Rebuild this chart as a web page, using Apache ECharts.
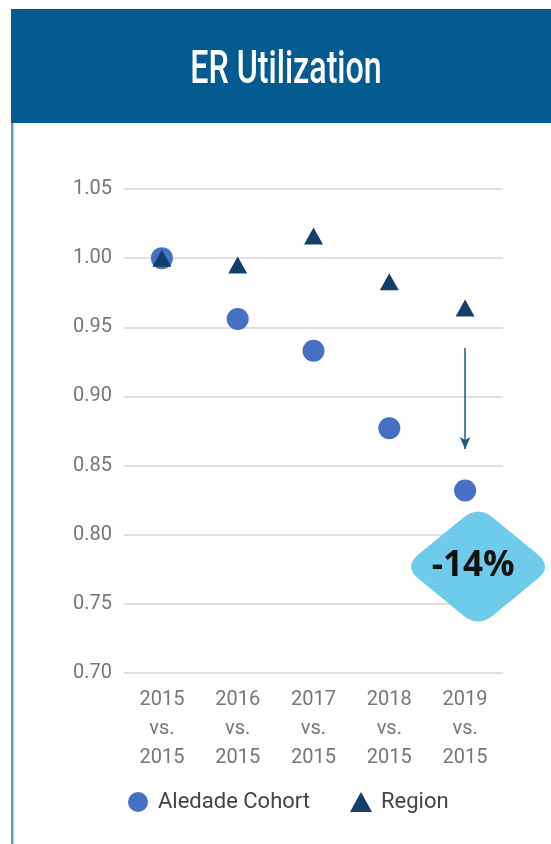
<!DOCTYPE html>
<html>
<head>
<meta charset="utf-8">
<script src="https://cdn.jsdelivr.net/npm/echarts@6/dist/echarts.min.js"></script>
<style>
  html, body { margin: 0; padding: 0; background: #fff; }
  #chart { width: 551px; height: 844px; }
</style>
</head>
<body>
<div id="chart"></div>
<script>
// data
const categories = ['2015\nvs.\n2015', '2016\nvs.\n2015', '2017\nvs.\n2015', '2018\nvs.\n2015', '2019\nvs.\n2015']
const cohortValues = [1.000, 0.956, 0.933, 0.877, 0.832]
const regionValues = [1.000, 0.995, 1.016, 0.983, 0.964]
const yTicks = [0.70, 0.75, 0.80, 0.85, 0.90, 0.95, 1.00, 1.05]
const titleText = 'ER Utilization'
const changeLabel = '-14%'
const arrowFrom = 0.935
const arrowTo = 0.862
const badgeValue = 0.777

const chart = echarts.init(document.getElementById('chart'))

// rounded diamond used for the badge
const diamondPath = 'path://M40,10 Q50,0 60,10 L90,40 Q100,50 90,60 L60,90 Q50,100 40,90 L10,60 Q0,50 10,40 Z'

const option = {
  animation: false,
  graphic: [
    // header band
    { type: 'rect', shape: { x: 11, y: 9, width: 540, height: 114 }, style: { fill: '#035b8f' }, z: -1 },
    // left border
    { type: 'rect', shape: { x: 11, y: 123, width: 2.5, height: 721 }, style: { fill: '#5b9bc8' }, z: -1 },
    // title, squeezed to look like a condensed face
    {
      type: 'text',
      x: 286,
      y: 71,
      scaleX: 0.7,
      style: {
        text: titleText,
        fill: '#fff',
        font: '500 46px Roboto',
        textAlign: 'center',
        textVerticalAlign: 'middle'
      }
    }
  ],
  grid: { left: 124, right: 48, top: 189, bottom: 171 },
  legend: {
    bottom: 26,
    left: 123,
    itemGap: 40,
    itemWidth: 22,
    itemHeight: 20,
    textStyle: { fontFamily: 'Roboto', fontSize: 22, color: '#444', padding: [0, 0, 0, 4] },
    data: [
      { name: 'Aledade Cohort', icon: 'circle' },
      { name: 'Region', icon: 'triangle', itemStyle: { color: '#123f6b' } }
    ]
  },
  xAxis: {
    type: 'category',
    data: categories,
    axisLine: { show: false },
    axisTick: { show: false },
    axisLabel: {
      fontFamily: 'Roboto',
      fontSize: 20,
      lineHeight: 29,
      color: '#777',
      margin: 12
    }
  },
  yAxis: {
    type: 'value',
    min: yTicks[0],
    max: yTicks[yTicks.length - 1],
    interval: 0.05,
    axisLabel: {
      fontFamily: 'Roboto',
      fontSize: 20,
      color: '#777',
      margin: 12,
      formatter: (v) => v.toFixed(2)
    },
    splitLine: { lineStyle: { color: '#d6d6d6', width: 1.5 } }
  },
  series: [
    {
      name: 'Aledade Cohort',
      type: 'scatter',
      symbol: 'circle',
      symbolSize: 22,
      itemStyle: { color: '#4570c4', opacity: 1 },
      data: cohortValues,
      z: 2,
      markLine: {
        silent: true,
        symbol: ['none', 'arrow'],
        symbolSize: [8, 12],
        label: { show: false },
        lineStyle: { color: '#1b5a87', width: 1.5, type: 'solid' },
        data: [[
          { coord: [4, arrowFrom] },
          { coord: [4, arrowTo] }
        ]]
      },
      markPoint: {
        silent: true,
        symbol: diamondPath,
        symbolSize: [134, 110],
        symbolOffset: [13, 0],
        itemStyle: { color: '#6fcbea' },
        label: {
          show: true,
          position: 'inside',
          offset: [-5, 0],
          formatter: changeLabel,
          color: '#111',
          fontFamily: 'Open Sans',
          fontWeight: 'bold',
          fontSize: 35
        },
        data: [{ coord: [4, badgeValue] }]
      }
    },
    {
      name: 'Region',
      type: 'scatter',
      symbol: 'triangle',
      symbolSize: [19, 17],
      itemStyle: { color: '#123f6b', opacity: 1 },
      data: regionValues,
      z: 3
    }
  ]
}

chart.setOption(option)
</script>
</body>
</html>
